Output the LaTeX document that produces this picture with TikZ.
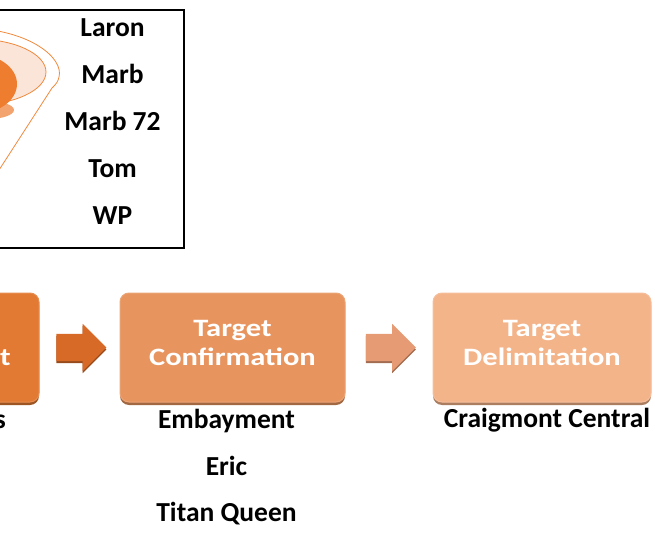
\documentclass[tikz,border=0pt]{standalone}
\usepackage{fontspec}
\setmainfont{Carlito}
\usetikzlibrary{
  shapes.arrows, % Shape "single arrow"
  positioning,   % Function "of" (e.g. [right=of x])
  calc           % Calculations $...$
}
\definecolor{stepone}{HTML}{E27A33}
\definecolor{steptwo}{HTML}{E8945E}
\definecolor{stepthree}{HTML}{F4B48A}
\definecolor{arrone}{HTML}{D86A28}
\definecolor{arrtwo}{HTML}{E69B74}
\definecolor{funnelline}{HTML}{F08A3E}
\definecolor{funnellight}{HTML}{FBE5D9}
\definecolor{funneldark}{HTML}{EE7D30}
\definecolor{funnelmid}{HTML}{F3A36E}
\tikzset{
  x=1pt,
  y=-1pt,
  font=\bfseries\fontsize{27.5}{33}\selectfont,
  prospect/.style={
    inner sep=0pt,
    text height=20pt,
    text depth=6pt
  },
  stage/.style={
    rectangle,
    rounded corners=9pt,
    minimum height=109pt,
    fill=#1,
    draw=#1!85!white,
    line width=1pt,
    preaction={fill=#1!70!black,transform canvas={yshift=-3pt}}
  },
  boxtext/.style={
    text=white,
    align=center,
    inner sep=0pt,
    xscale=1.22,
    transform shape,
    font={\bfseries\fontsize{25}{29}\selectfont}
  },
  flow/.style={
    single arrow,
    single arrow head extend=10pt,
    single arrow head indent=0pt,
    minimum height=50pt,
    minimum width=47pt,
    inner sep=0pt,
    text height=27pt,
    text depth=0pt,
    xshift=-5pt,
    fill=#1,
    preaction={fill=#1!70!black,transform canvas={yshift=-2pt}}
  }
}
\begin{document}
\begin{tikzpicture}
\useasboundingbox (0,0) rectangle (655,545);
% funnel, cut by the left edge
\fill[funnelmid] (-12,110) ellipse [x radius=26pt, y radius=9pt];
\filldraw[fill=funnellight, draw=funnelline, line width=0.8pt] (-25,72) ellipse [x radius=71pt, y radius=33pt];
\fill[funneldark] (-25,84) ellipse [x radius=42pt, y radius=30pt];
\draw[funnelline, line width=0.8pt] (-30,28) .. controls (30,30) and (64,58) .. (59,77)
  .. controls (58,82) and (56,84) .. (52,88) -- (-10,184);
\draw[line width=2.5pt] (-10,10) rectangle (184,248);
% prospects in the frame
\node[prospect] (laron) at (112.5,30) {Laron};
\node[prospect, below=20.5pt of laron] (marb) {Marb};
\node[prospect, below=20.5pt of marb] (marbsz) {Marb 72};
\node[prospect, below=20.5pt of marbsz] (tom) {Tom};
\node[prospect, below=20.5pt of tom] (wp) {WP};
% stages
\node[stage=steptwo, minimum width=225pt,
  label={[boxtext, yshift=5pt]center:{Target\\Confirmation}}] (confirm) at (232.5,347.5) {};
\node[stage=stepone, minimum width=220pt, left=80pt of confirm] (assess) {};
\node[stage=stepthree, minimum width=218pt, right=87pt of confirm,
  label={[boxtext, yshift=5pt]center:{Target\\Delimitation}}] (delimit) {};
\node[boxtext, anchor=base east] (tailt) at (11,365) {t};
\node[flow=arrone] (arrowa) at ($(assess.east)!0.5!(confirm.west)$) {};
\node[flow=arrtwo] (arrowb) at ($(confirm.east)!0.5!(delimit.west)$) {};
% prospects under the stages
\node[prospect, anchor=base east] (tails) at (6,428) {s};
\node[prospect, below=6pt of confirm, xshift=-6pt] (embay) {Embayment};
\node[prospect, below=20pt of embay] (eric) {Eric};
\node[prospect, below=20pt of eric] (titan) {Titan Queen};
\node[prospect, below=5pt of delimit, xshift=5pt] (craig) {Craigmont Central};
\end{tikzpicture}
\end{document}
